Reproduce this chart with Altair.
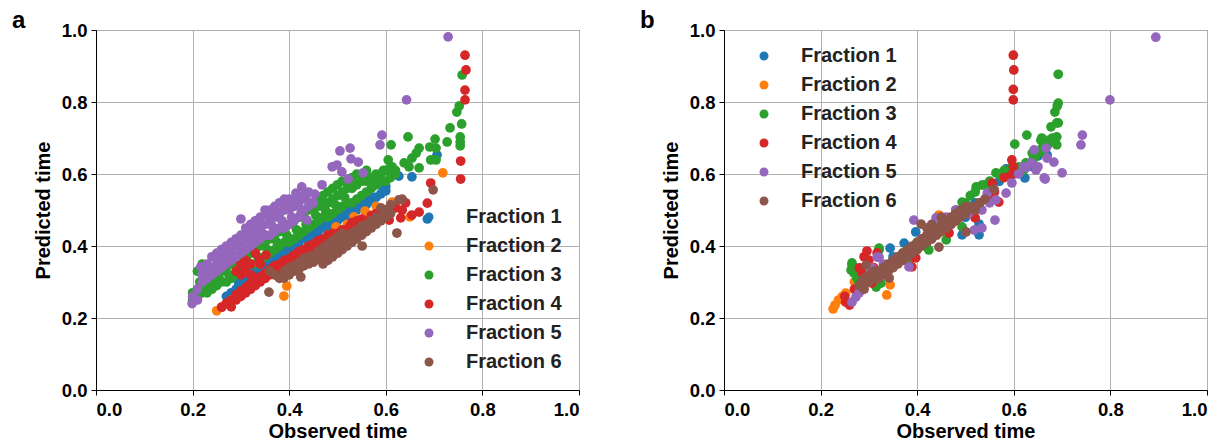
import altair as alt
import pandas as pd

FRACTIONS = ["Fraction 1", "Fraction 2", "Fraction 3", "Fraction 4", "Fraction 5", "Fraction 6"]
COLORS = ["#1f77b4", "#ff7f0e", "#2ca02c", "#d62728", "#9467bd", "#8c564b"]
TICKS = [0.0, 0.2, 0.4, 0.6, 0.8, 1.0]

# ---------------- panel a : (observed, predicted) ----------------
A1 = [(0.27,0.26),(0.28,0.27),(0.29,0.28),(0.30,0.29),(0.30,0.31),(0.31,0.31),(0.32,0.31),(0.32,0.33),
      (0.33,0.33),(0.34,0.33),(0.34,0.34),(0.35,0.35),(0.36,0.35),(0.36,0.365),(0.37,0.365),(0.38,0.36),
      (0.38,0.38),(0.39,0.38),(0.40,0.38),(0.40,0.40),(0.41,0.40),(0.42,0.40),(0.42,0.42),(0.43,0.42),
      (0.44,0.42),(0.44,0.43),(0.45,0.43),(0.46,0.44),(0.46,0.45),(0.47,0.45),(0.48,0.45),(0.48,0.47),
      (0.49,0.46),(0.50,0.47),(0.50,0.48),(0.51,0.48),(0.52,0.48),(0.52,0.50),(0.53,0.49),(0.54,0.50),
      (0.54,0.51),(0.55,0.51),(0.56,0.515),(0.56,0.53),(0.57,0.525),(0.58,0.535),(0.59,0.545),(0.60,0.553),
      (0.60,0.565),(0.614,0.61),(0.627,0.594),(0.654,0.592),(0.686,0.475),(0.706,0.653),
      (0.295,0.30),(0.315,0.32),(0.335,0.345),(0.355,0.36),(0.375,0.37),(0.395,0.39),(0.415,0.41),
      (0.435,0.425),(0.455,0.445),(0.475,0.46),(0.495,0.475),(0.515,0.49),(0.535,0.505),(0.555,0.52),
      (0.575,0.535),(0.595,0.555)]
A2 = [(0.25,0.22),(0.26,0.23),(0.27,0.24),(0.28,0.25),(0.29,0.26),(0.30,0.27),(0.31,0.28),(0.32,0.29),
      (0.33,0.30),(0.35,0.31),(0.36,0.33),(0.37,0.32),(0.389,0.261),(0.395,0.289),(0.40,0.34),(0.42,0.36),
      (0.43,0.37),(0.44,0.38),(0.46,0.40),(0.48,0.43),(0.497,0.453),(0.52,0.46),(0.534,0.481),(0.557,0.497),
      (0.58,0.51),(0.613,0.522),(0.65,0.481),(0.718,0.603)]
A3 = [(0.20,0.25),(0.20,0.27),(0.21,0.26),(0.21,0.28),(0.21,0.33),(0.22,0.27),(0.22,0.29),(0.22,0.35),
      (0.23,0.27),(0.23,0.30),(0.24,0.28),(0.24,0.31),(0.25,0.29),(0.25,0.32),(0.26,0.30),(0.26,0.33),
      (0.26,0.39),(0.27,0.30),(0.27,0.34),(0.28,0.31),(0.28,0.35),(0.29,0.32),(0.29,0.36),(0.30,0.33),
      (0.30,0.36),(0.31,0.34),(0.31,0.37),(0.32,0.35),(0.32,0.38),(0.33,0.35),(0.33,0.39),(0.34,0.36),
      (0.34,0.40),(0.35,0.37),(0.35,0.41),(0.36,0.38),(0.36,0.42),(0.37,0.39),(0.37,0.43),(0.38,0.40),
      (0.38,0.44),(0.39,0.41),(0.39,0.45),(0.40,0.41),(0.40,0.46),(0.41,0.42),(0.41,0.47),(0.42,0.43),
      (0.42,0.48),(0.43,0.44),(0.43,0.49),(0.435,0.472),(0.44,0.45),(0.44,0.50),(0.45,0.46),(0.45,0.50),
      (0.45,0.52),(0.46,0.47),(0.46,0.51),(0.46,0.53),(0.47,0.48),(0.47,0.52),(0.47,0.54),(0.48,0.48),
      (0.48,0.52),(0.48,0.55),(0.49,0.49),(0.49,0.53),(0.49,0.56),(0.50,0.50),(0.50,0.54),(0.50,0.57),
      (0.51,0.51),(0.51,0.55),(0.51,0.58),(0.52,0.52),(0.52,0.56),(0.52,0.58),(0.53,0.52),(0.53,0.56),
      (0.53,0.59),(0.54,0.53),(0.54,0.57),(0.54,0.60),(0.55,0.54),(0.55,0.58),(0.55,0.60),(0.56,0.55),
      (0.56,0.58),(0.56,0.61),(0.57,0.56),(0.57,0.59),(0.58,0.57),(0.58,0.60),(0.59,0.58),(0.59,0.60),
      (0.60,0.58),(0.60,0.61),(0.605,0.639),(0.611,0.681),(0.61,0.59),(0.61,0.62),(0.613,0.62),(0.62,0.60),
      (0.62,0.61),(0.638,0.631),(0.646,0.703),(0.648,0.62),(0.654,0.644),(0.663,0.658),(0.669,0.672),
      (0.669,0.617),(0.691,0.675),(0.693,0.639),(0.702,0.697),(0.704,0.672),(0.704,0.639),(0.727,0.689),
      (0.733,0.728),(0.747,0.772),(0.752,0.789),(0.754,0.703),(0.754,0.689),(0.754,0.678),(0.757,0.739),
      (0.758,0.875),
      (0.205,0.26),(0.215,0.30),(0.235,0.29),(0.255,0.31),(0.275,0.32),(0.295,0.34),(0.315,0.355),
      (0.335,0.37),(0.355,0.39),(0.375,0.41),(0.395,0.43),(0.415,0.445),(0.435,0.46),(0.455,0.485),
      (0.475,0.50),(0.495,0.515),(0.515,0.535),(0.535,0.575),(0.555,0.59),(0.575,0.58),(0.595,0.61),
      (0.615,0.605)]
A4 = [(0.26,0.23),(0.27,0.24),(0.271,0.242),(0.28,0.231),(0.28,0.25),(0.29,0.25),(0.29,0.265),(0.30,0.26),
      (0.30,0.275),(0.31,0.27),(0.31,0.285),(0.32,0.28),(0.32,0.295),(0.33,0.29),(0.33,0.305),(0.34,0.30),
      (0.34,0.315),(0.35,0.31),(0.35,0.325),(0.36,0.32),(0.36,0.335),(0.37,0.33),(0.37,0.345),(0.38,0.335),
      (0.38,0.35),(0.39,0.345),(0.39,0.36),(0.40,0.35),(0.40,0.365),(0.41,0.36),(0.41,0.375),(0.42,0.37),
      (0.42,0.385),(0.43,0.375),(0.43,0.39),(0.44,0.385),(0.44,0.40),(0.45,0.39),(0.45,0.405),(0.46,0.40),
      (0.46,0.415),(0.47,0.405),(0.47,0.42),(0.48,0.415),(0.48,0.43),(0.49,0.42),(0.49,0.435),(0.503,0.436),
      (0.51,0.43),(0.51,0.445),(0.524,0.453),(0.52,0.44),(0.53,0.45),(0.53,0.465),(0.54,0.455),(0.54,0.47),
      (0.55,0.46),(0.55,0.475),(0.565,0.472),(0.57,0.485),(0.58,0.49),(0.59,0.495),(0.60,0.50),
      (0.607,0.472),(0.621,0.506),(0.631,0.478),(0.634,0.50),(0.641,0.52),(0.654,0.486),(0.669,0.494),
      (0.686,0.519),(0.693,0.575),(0.755,0.586),(0.755,0.636),(0.764,0.806),(0.764,0.833),(0.766,0.889),
      (0.764,0.93),(0.29,0.33),(0.30,0.35),(0.31,0.36),(0.31,0.34),(0.32,0.35),(0.33,0.38),(0.338,0.361),
      (0.352,0.375),(0.34,0.35),(0.30,0.32),(0.32,0.32)]
A5 = [(0.199,0.24),(0.20,0.26),(0.21,0.25),(0.21,0.28),(0.217,0.342),(0.22,0.30),(0.22,0.32),(0.22,0.34),
      (0.23,0.31),(0.23,0.33),(0.23,0.35),(0.24,0.32),(0.24,0.34),(0.24,0.37),(0.25,0.33),(0.25,0.35),
      (0.25,0.38),(0.26,0.34),(0.26,0.37),(0.26,0.39),(0.27,0.35),(0.27,0.38),(0.27,0.40),(0.28,0.36),
      (0.28,0.39),(0.28,0.41),(0.29,0.37),(0.29,0.40),(0.29,0.42),(0.30,0.38),(0.30,0.41),(0.30,0.43),
      (0.30,0.475),(0.31,0.39),(0.31,0.42),(0.31,0.45),(0.32,0.40),(0.32,0.43),(0.32,0.46),(0.33,0.41),
      (0.33,0.44),(0.33,0.47),(0.34,0.42),(0.34,0.45),(0.34,0.48),(0.35,0.43),(0.35,0.46),(0.35,0.50),
      (0.36,0.43),(0.36,0.47),(0.36,0.50),(0.37,0.44),(0.37,0.48),(0.37,0.51),(0.38,0.45),(0.38,0.49),
      (0.38,0.52),(0.39,0.45),(0.39,0.50),(0.39,0.53),(0.40,0.46),(0.40,0.50),(0.40,0.53),(0.41,0.47),
      (0.41,0.51),(0.414,0.547),(0.42,0.48),(0.42,0.52),(0.426,0.564),(0.43,0.50),(0.43,0.54),
      (0.437,0.472),(0.44,0.51),(0.44,0.55),(0.45,0.52),(0.453,0.544),(0.468,0.57),(0.489,0.62),
      (0.499,0.625),(0.505,0.664),(0.509,0.606),(0.522,0.586),(0.526,0.672),(0.528,0.642),(0.543,0.633),
      (0.553,0.603),(0.588,0.681),(0.592,0.708),(0.643,0.806),(0.729,0.981),
      (0.225,0.31),(0.235,0.34),(0.245,0.33),(0.255,0.36),(0.265,0.355),(0.275,0.39),(0.285,0.375),
      (0.295,0.41),(0.305,0.395),(0.315,0.435),(0.325,0.415),(0.335,0.455),(0.345,0.435),(0.355,0.485),
      (0.365,0.455),(0.375,0.495),(0.385,0.47),(0.395,0.515),(0.405,0.48),(0.415,0.525),(0.425,0.495),
      (0.435,0.53)]
A6 = [(0.358,0.272),(0.36,0.33),(0.37,0.32),(0.38,0.31),(0.389,0.311),(0.39,0.33),(0.40,0.32),(0.40,0.34),
      (0.41,0.33),(0.41,0.345),(0.42,0.335),(0.42,0.355),(0.424,0.314),(0.43,0.345),(0.43,0.365),(0.44,0.35),
      (0.44,0.37),(0.45,0.355),(0.45,0.375),(0.46,0.365),(0.46,0.385),(0.47,0.35),(0.47,0.375),(0.47,0.395),
      (0.48,0.36),(0.48,0.385),(0.48,0.405),(0.49,0.37),(0.49,0.395),(0.49,0.415),(0.50,0.38),(0.50,0.405),
      (0.50,0.425),(0.51,0.39),(0.51,0.415),(0.51,0.435),(0.52,0.40),(0.52,0.425),(0.53,0.41),(0.53,0.435),
      (0.54,0.42),(0.54,0.445),(0.551,0.40),(0.55,0.43),(0.55,0.455),(0.56,0.44),(0.56,0.46),(0.57,0.45),
      (0.57,0.47),(0.58,0.46),(0.58,0.48),(0.59,0.47),(0.59,0.506),(0.60,0.48),(0.60,0.50),(0.61,0.49),
      (0.61,0.515),(0.623,0.436),(0.627,0.528),(0.634,0.53),(0.698,0.556),
      (0.405,0.33),(0.415,0.34),(0.425,0.345),(0.435,0.355),(0.445,0.36),(0.455,0.37),(0.465,0.38),
      (0.475,0.385),(0.485,0.395),(0.495,0.405),(0.505,0.41),(0.515,0.42),(0.525,0.43),(0.535,0.425),
      (0.545,0.44),(0.555,0.445),(0.565,0.45),(0.575,0.46),(0.585,0.47),(0.595,0.485),(0.605,0.49)]

# ---------------- panel b : (observed, predicted) ----------------
B1 = [(0.30,0.30),(0.32,0.32),(0.344,0.394),(0.35,0.37),(0.373,0.408),(0.38,0.39),(0.397,0.439),(0.40,0.41),
      (0.42,0.42),(0.43,0.44),(0.45,0.45),(0.47,0.47),(0.48,0.49),(0.493,0.431),(0.50,0.48),(0.52,0.52),
      (0.528,0.431),(0.528,0.461),(0.55,0.55),(0.57,0.58),(0.584,0.614),(0.60,0.60),(0.623,0.589),
      (0.64,0.62),(0.65,0.65),(0.669,0.653)]
B2 = [(0.226,0.225),(0.23,0.236),(0.237,0.25),(0.245,0.26),(0.252,0.269),(0.27,0.30),(0.337,0.264),
      (0.344,0.292),(0.35,0.34),(0.38,0.38),(0.40,0.40),(0.42,0.43),(0.445,0.486),(0.45,0.44),(0.48,0.47),
      (0.50,0.50),(0.52,0.50),(0.55,0.53),(0.57,0.60),(0.58,0.606)]
B3 = [(0.263,0.333),(0.265,0.347),(0.265,0.353),(0.269,0.325),(0.275,0.311),(0.279,0.30),(0.27,0.34),
      (0.28,0.32),(0.29,0.30),(0.30,0.31),(0.315,0.286),(0.325,0.297),(0.321,0.389),(0.321,0.394),
      (0.33,0.33),(0.35,0.36),(0.37,0.38),(0.383,0.361),(0.40,0.41),(0.424,0.389),(0.424,0.417),(0.44,0.45),
      (0.45,0.47),(0.46,0.417),(0.46,0.453),(0.48,0.50),(0.493,0.453),(0.493,0.522),(0.50,0.52),(0.51,0.54),
      (0.52,0.55),(0.522,0.564),(0.534,0.569),(0.54,0.57),(0.55,0.58),(0.563,0.603),(0.57,0.60),
      (0.576,0.592),(0.58,0.61),(0.59,0.60),(0.596,0.619),(0.602,0.683),(0.61,0.62),(0.62,0.61),
      (0.625,0.631),(0.627,0.708),(0.638,0.658),(0.64,0.64),(0.645,0.65),(0.656,0.694),(0.658,0.672),
      (0.658,0.70),(0.66,0.66),(0.67,0.68),(0.673,0.694),(0.677,0.731),(0.68,0.70),(0.685,0.772),
      (0.689,0.681),(0.689,0.703),(0.689,0.742),(0.69,0.789),(0.692,0.797),(0.692,0.742),(0.692,0.877)]
B4 = [(0.252,0.244),(0.26,0.236),(0.25,0.26),(0.27,0.28),(0.28,0.339),(0.286,0.325),(0.286,0.292),
      (0.29,0.37),(0.296,0.386),(0.30,0.361),(0.306,0.297),(0.31,0.34),(0.317,0.381),(0.32,0.32),
      (0.33,0.33),(0.35,0.35),(0.37,0.36),(0.389,0.342),(0.397,0.367),(0.40,0.39),(0.43,0.42),
      (0.466,0.436),(0.47,0.46),(0.50,0.49),(0.52,0.478),(0.53,0.52),(0.555,0.528),(0.555,0.575),
      (0.569,0.522),(0.56,0.55),(0.58,0.59),(0.594,0.597),(0.596,0.639),(0.599,0.62),(0.599,0.806),
      (0.599,0.835),(0.600,0.889),(0.599,0.93)]
B5 = [(0.265,0.244),(0.273,0.258),(0.28,0.27),(0.30,0.311),(0.306,0.339),(0.317,0.369),(0.321,0.369),
      (0.33,0.35),(0.36,0.37),(0.383,0.342),(0.393,0.472),(0.41,0.42),(0.43,0.45),(0.439,0.478),(0.46,0.48),
      (0.48,0.50),(0.507,0.492),(0.518,0.444),(0.524,0.508),(0.534,0.45),(0.534,0.50),(0.545,0.547),
      (0.55,0.52),(0.561,0.472),(0.563,0.528),(0.584,0.547),(0.596,0.575),(0.61,0.60),(0.62,0.62),
      (0.625,0.617),(0.636,0.631),(0.642,0.667),(0.646,0.611),(0.65,0.62),(0.663,0.589),(0.665,0.586),
      (0.667,0.672),(0.669,0.644),(0.683,0.633),(0.70,0.603),(0.739,0.681),(0.742,0.708),(0.799,0.806),
      (0.894,0.98)]
B6 = [(0.28,0.29),(0.286,0.286),(0.29,0.28),(0.29,0.31),(0.294,0.347),(0.30,0.30),(0.30,0.32),(0.31,0.31),
      (0.31,0.33),(0.32,0.31),(0.32,0.33),(0.33,0.32),(0.33,0.34),(0.34,0.33),(0.34,0.35),(0.342,0.311),
      (0.35,0.34),(0.35,0.36),(0.36,0.35),(0.36,0.37),(0.37,0.36),(0.37,0.38),(0.38,0.37),(0.38,0.39),
      (0.39,0.38),(0.39,0.40),(0.40,0.39),(0.40,0.41),(0.41,0.40),(0.41,0.42),(0.408,0.461),(0.42,0.41),
      (0.42,0.43),(0.42,0.45),(0.43,0.42),(0.43,0.44),(0.43,0.46),(0.44,0.43),(0.44,0.45),(0.445,0.397),
      (0.45,0.44),(0.45,0.46),(0.45,0.48),(0.46,0.45),(0.46,0.47),(0.47,0.46),(0.47,0.48),(0.48,0.47),
      (0.48,0.49),(0.49,0.48),(0.49,0.50),(0.50,0.49),(0.50,0.51),(0.501,0.439),(0.52,0.50),(0.559,0.558),
      (0.285,0.30),(0.305,0.315),(0.325,0.325),(0.345,0.345),(0.365,0.36),(0.385,0.38),(0.405,0.40),
      (0.425,0.42),(0.445,0.44),(0.465,0.46),(0.485,0.48),(0.505,0.50),(0.515,0.51),(0.53,0.52),(0.54,0.53)]

FONT = "Liberation Sans"


def to_frame(series):
    rows = []
    k = 0
    for name, pts in zip(FRACTIONS, series):
        for ox, py in pts:
            rows.append({"Fraction": name, "obs": ox, "pred": py, "k": k})
            k += 1
    return pd.DataFrame(rows)


def panel(series, letter, lx, ly):
    df = to_frame(series)
    return (
        alt.Chart(
            df,
            title=alt.TitleParams(letter, anchor="start", frame="group", dx=-84, offset=-12,
                                  fontSize=24, fontWeight="bold", font=FONT, color="black"),
        )
        .mark_circle(size=95, opacity=1)
        .encode(
            x=alt.X("obs:Q", scale=alt.Scale(domain=[0, 1], nice=False),
                    axis=alt.Axis(values=TICKS, format=".1f", title="Observed time")),
            y=alt.Y("pred:Q", scale=alt.Scale(domain=[0, 1], nice=False),
                    axis=alt.Axis(values=TICKS, format=".1f", title="Predicted time")),
            color=alt.Color(
                "Fraction:N",
                scale=alt.Scale(domain=FRACTIONS, range=COLORS),
                legend=alt.Legend(title=None, orient="none", legendX=lx, legendY=ly,
                                  symbolType="circle", symbolSize=81, symbolStrokeWidth=0,
                                  symbolOpacity=1, labelFontSize=20, labelFontWeight="bold",
                                  labelFont=FONT, labelColor="#222222", labelOffset=27,
                                  rowPadding=9, padding=0),
            ),
            order=alt.Order("k:Q"),
        )
        .properties(width=483, height=360)
    )


chart_a = panel([A1, A2, A3, A4, A5, A6], "a", 323, 177)
chart_b = panel([B1, B2, B3, B4, B5, B6], "b", 30, 16)

chart = (
    alt.hconcat(chart_a, chart_b, spacing=145, bounds="flush")
    .resolve_scale(color="independent")
    .resolve_legend(color="independent")
    .properties(padding={"left": 3, "top": 0, "right": 5, "bottom": 0})
    .configure_axis(
        labelFont=FONT, titleFont=FONT, labelFontSize=18.5, titleFontSize=20,
        labelFontWeight="bold", titleFontWeight="bold", labelColor="black", titleColor="black",
        domainColor="black", tickColor="black", tickSize=5, gridColor="#b0b0b0", gridWidth=1,
    )
    .configure_axisY(labelPadding=4, titlePadding=8)
    .configure_axisX(labelPadding=5, titlePadding=3)
    .configure_view(stroke="#444444", strokeWidth=1)
)

chart.save("out.html", embed_options={"renderer": "svg", "actions": False})
